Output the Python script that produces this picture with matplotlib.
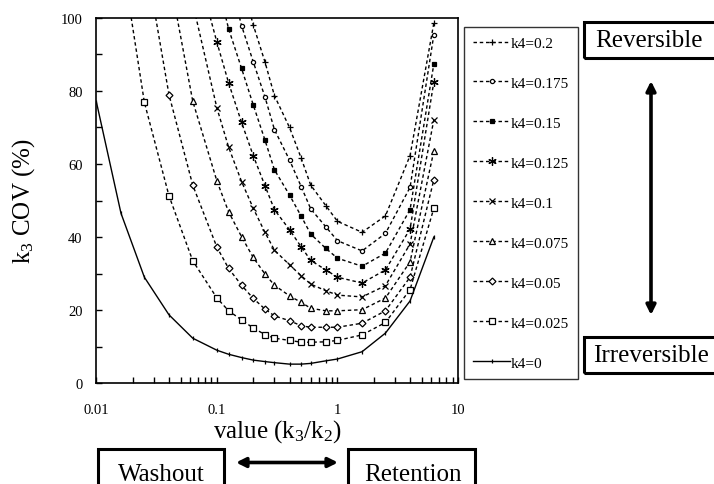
import matplotlib
matplotlib.use("Agg")
import matplotlib.pyplot as plt
import numpy as np
from matplotlib.patches import Rectangle
from matplotlib.ticker import FixedLocator, FixedFormatter, NullFormatter

plt.rcParams['font.family'] = ['Liberation Serif', 'DejaVu Serif']
plt.rcParams['mathtext.fontset'] = 'custom'
plt.rcParams['mathtext.rm'] = 'Liberation Serif'
plt.rcParams['mathtext.it'] = 'Liberation Serif:italic'

nan = np.nan
# k3/k2 grid shared by all curves
ratio = [0.01, 0.016, 0.025, 0.04, 0.063, 0.1, 0.125, 0.16, 0.2, 0.25,
         0.3, 0.4, 0.5, 0.6, 0.8, 1.0, 1.6, 2.5, 4.0, 6.3]

# k3 COV (%) per k4 value (values above 100 are outside the plot)
cov_k4_0 = [77, 46.5, 29, 18.7, 12.3, 9.0, 7.9, 7.0, 6.3, 5.9,
            5.6, 5.2, 5.2, 5.4, 6.1, 6.6, 8.6, 13.7, 22.5, 40]
cov_k4_025 = [nan, 118, 76.9, 51.3, 33.5, 23.3, 19.8, 17.3, 15.1, 13.3,
              12.3, 11.7, 11.2, 11.2, 11.3, 11.7, 13.2, 16.6, 25.6, 47.9]
cov_k4_05 = [nan, nan, 118, 79, 54.2, 37.2, 31.4, 26.8, 23.2, 20.3,
             18.4, 17.1, 15.7, 15.3, 15.3, 15.3, 16.4, 19.8, 29, 55.7]
cov_k4_075 = [nan, nan, nan, 112, 77.2, 55.3, 46.9, 40.1, 34.4, 29.9,
              26.8, 23.9, 22.1, 20.5, 19.8, 19.8, 20.1, 23.3, 33.2, 63.6]
cov_k4_1 = [nan, nan, nan, nan, 104, 75.3, 64.6, 55.2, 47.9, 41.3,
            36.4, 32.4, 29.4, 27.1, 25.3, 24.1, 23.6, 26.7, 38.1, 72.1]
cov_k4_125 = [nan, nan, nan, nan, 118, 93.3, 82.2, 71.4, 62.3, 54.1,
              47.5, 42.0, 37.3, 33.6, 31.0, 29.0, 27.4, 31.0, 42.2, 82.5]
cov_k4_15 = [nan, nan, nan, nan, nan, 110, 97.0, 86.2, 76.2, 66.6,
             58.4, 51.5, 45.7, 40.8, 36.9, 34.2, 32.0, 35.6, 47.5, 87.4]
cov_k4_175 = [nan, nan, nan, nan, nan, nan, 112, 97.9, 88.0, 78.4,
              69.4, 61.1, 53.8, 47.7, 42.8, 39.0, 36.2, 41.0, 53.6, 95.4]
cov_k4_2 = [nan, nan, nan, nan, nan, nan, nan, 110, 98.1, 88.0,
            78.7, 70.0, 61.6, 54.2, 48.6, 44.3, 41.3, 45.8, 62.3, 98.6]

labels = ['k4=0.2', 'k4=0.175', 'k4=0.15', 'k4=0.125', 'k4=0.1',
          'k4=0.075', 'k4=0.05', 'k4=0.025', 'k4=0']
series = [cov_k4_2, cov_k4_175, cov_k4_15, cov_k4_125, cov_k4_1,
          cov_k4_075, cov_k4_05, cov_k4_025, cov_k4_0]
# marker, size, face
styles = [('+', 5, 'k'), ('o', 3, 'white'), ('s', 2.5, 'k'), ((6, 2, 0), 6, 'k'),
          ('x', 4.5, 'k'), ('^', 4.5, 'white'), ('D', 3.5, 'white'),
          ('s', 4, 'white'), ('|', 2.5, 'k')]

fig = plt.figure(figsize=(7.14, 4.85), dpi=100)
ax = fig.add_axes([0.135, 0.208, 0.5065, 0.753])

for lab, vals, (mk, ms, fc) in zip(labels, series, styles):
    ls = '-' if lab == 'k4=0' else (0, (2.5, 2))
    ax.plot(ratio, vals, linestyle=ls, color='k', lw=1.0, marker=mk,
            markersize=ms, markerfacecolor=fc, markeredgecolor='k',
            markeredgewidth=0.9, label=lab)

ax.set_xscale('log')
ax.set_xlim(0.01, 10)
ax.set_ylim(0, 100)
ax.xaxis.set_major_locator(FixedLocator([0.01, 0.1, 1, 10]))
ax.xaxis.set_major_formatter(FixedFormatter(['0.01', '0.1', '1', '10']))
ax.xaxis.set_minor_formatter(NullFormatter())
ax.set_yticks([0, 20, 40, 60, 80, 100])
ax.set_yticks([10, 30, 50, 70, 90], minor=True)
ax.tick_params(axis='both', which='both', direction='in', length=4, width=1)
ax.tick_params(axis='x', which='major', pad=14, labelsize=10.5)
ax.tick_params(axis='y', which='major', pad=10, labelsize=10.5)
for s in ax.spines.values():
    s.set_linewidth(1.2)

ax.set_xlabel('value (k$_{\\mathrm{3}}$/k$_{\\mathrm{2}}$)', fontsize=18, labelpad=1)
ax.set_ylabel('k$_{\\mathrm{3}}$ COV (%)', fontsize=18, labelpad=17)

leg = fig.legend(loc='upper left', bbox_to_anchor=(464 / 714, 1 - 28 / 485),
                 borderaxespad=0, fontsize=11, frameon=True, fancybox=False,
                 edgecolor='k', labelspacing=1.72, handlelength=2.4,
                 handletextpad=0.05, borderpad=0.6, numpoints=1)
leg.get_frame().set_linewidth(1.0)

W, H = 714.0, 485.0


def box(x0, y0, x1, y1, text, tx, ha):
    fig.patches.append(Rectangle((x0 / W, 1 - y1 / H), (x1 - x0) / W, (y1 - y0) / H,
                                 transform=fig.transFigure, fill=False,
                                 edgecolor='k', lw=2.2, clip_on=False))
    fig.text(tx / W, 1 - (y0 + y1) / 2 / H, text, fontsize=18, ha=ha, va='center')


box(584, 23, 740, 59, 'Reversible', 595, 'left')
box(584, 338, 740, 374, 'Irreversible', 593, 'left')
box(98, 450, 224, 500, 'Washout', 161, 'center')
box(348, 450, 475, 500, 'Retention', 413, 'center')

arrow = dict(arrowstyle='<|-|>', color='k', lw=2.6, mutation_scale=14,
             shrinkA=0, shrinkB=0)
ax.annotate('', xy=(651 / W, 1 - 82 / H), xytext=(651 / W, 1 - 316 / H),
            xycoords='figure fraction', textcoords='figure fraction',
            arrowprops=arrow, annotation_clip=False)
ax.annotate('', xy=(236 / W, 1 - 463.5 / H), xytext=(338 / W, 1 - 463.5 / H),
            xycoords='figure fraction', textcoords='figure fraction',
            arrowprops=arrow, annotation_clip=False)

fig.savefig('out.png', dpi=100)
